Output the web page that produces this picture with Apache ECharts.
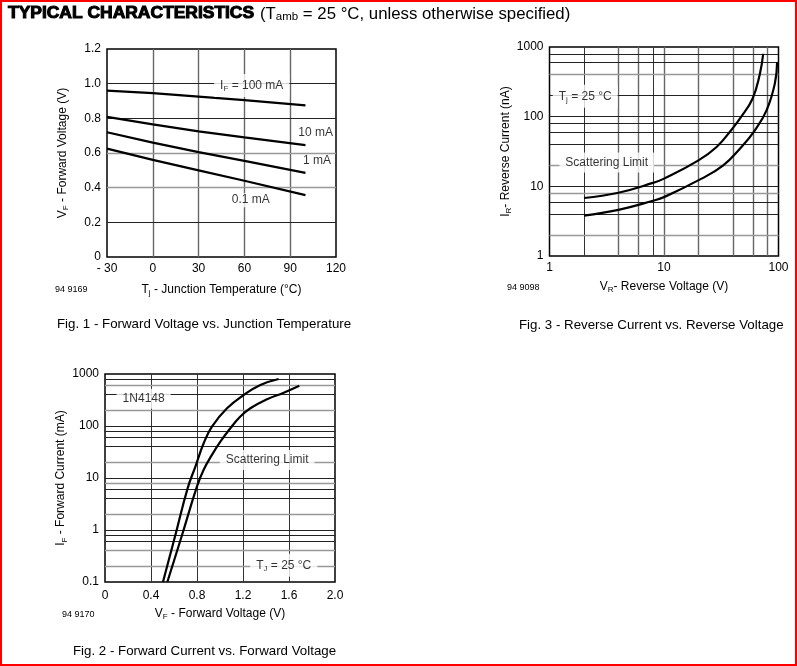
<!DOCTYPE html>
<html>
<head>
<meta charset="utf-8">
<script src="https://cdn.jsdelivr.net/npm/echarts@6/dist/echarts.min.js"></script>
<style>
html,body{margin:0;padding:0;background:#fff;}
#main{width:793px;height:662px;border:2px solid #f00;}
</style>
</head>
<body>
<div id="main"></div>
<script>
// Fig. 1 values
var fig1Temp=[-30,0,30,60,100];
var fig1If100=[0.96,0.945,0.925,0.905,0.875];
var fig1If10=[0.808,0.765,0.725,0.69,0.645];
var fig1If1=[0.72,0.66,0.605,0.555,0.485];
var fig1If01=[0.625,0.56,0.5,0.44,0.357];
var fig1XTicks=['- 30','0','30','60','90','120'];
var fig1YTicks=['0','0.2','0.4','0.6','0.8','1.0','1.2'];
var fig1VLines=[0,30,60,90];
var fig1DarkH=[0.2,0.8,1.0];
var fig1GreyH=[0.4,0.6];

// Fig. 3 values
var fig3UpperV=[2,4,8,10,20,28.8,38.9,46,59.3,68.8,73.5];
var fig3UpperI=[6.8,8.1,11.2,12.9,23.6,36.7,65,93.6,181,414,800];
var fig3LowerV=[2,4,8,10,21.3,32.9,46,62.2,78.6,92.9,97.3];
var fig3LowerI=[3.8,4.6,6.2,7,12.9,20,34.7,63.7,123,298,609];
var fig3XTicks=['1','10','100'];
var fig3YTicks=['1','10','100','1000'];
var fig3VDark=[2,8];
var fig3VGrey=[4,6,10,20,40,60,80];
var fig3HDark=[4,6,10,40,60,80,100,200,600,800];
var fig3HGrey=[2,8,20,400];

// Fig. 2 values
var fig2UpperV=[0.504,0.612,0.719,0.786,0.858,0.93,1.061,1.206,1.351,1.51];
var fig2UpperI=[0.1,0.8,6.4,16.6,46.6,97.5,219,395,615,802];
var fig2LowerV=[0.542,0.67,0.8,0.858,0.93,1.003,1.09,1.177,1.264,1.409,1.554,1.69];
var fig2LowerI=[0.1,0.8,6.9,14.4,27.9,50,90.6,152,219,326,438,597];
var fig2XTicks=['0','0.4','0.8','1.2','1.6','2.0'];
var fig2YTicks=['0.1','1','10','100','1000'];
var fig2VLines=[0.4,0.8,1.2,1.6];
var fig2HDark=[0.6,0.8,1,4,6,10,40,60,80,100,400,800];
var fig2HGrey=[0.2,0.4,2,8,20,200,600];

var FONT='"Liberation Sans", Arial, sans-serif';
var INK='#000';
var richStyle={
  t:{fontFamily:FONT,fontSize:12,color:INK},
  s:{fontFamily:FONT,fontSize:8,color:INK,padding:[7,0,0,0]}
};

function zip(xs,ys){
  var out=[];
  for(var i=0;i<xs.length;i++){
    out.push([xs[i],ys[i]]);
  }
  return out;
}

function curve(idx,data,smooth){
  return {
    type:'line',xAxisIndex:idx,yAxisIndex:idx,data:data,
    symbol:'none',smooth:smooth,z:4,silent:true,
    lineStyle:{color:'#000',width:2.2}
  };
}

// grid lines, drawn as markLines since the log axes need 2/4/6/8 lines
function gridLines(idx,darkV,greyV,darkH,greyH){
  var lines=[];
  function add(list,key,color,width){
    for(var i=0;i<list.length;i++){
      var item={lineStyle:{color:color,width:width,type:'solid'}};
      item[key]=list[i];
      lines.push(item);
    }
  }
  add(greyV,'xAxis','#666',1.4);
  add(darkV,'xAxis','#333',1);
  add(greyH,'yAxis','#999',1.4);
  add(darkH,'yAxis','#222',1);
  return {
    type:'line',xAxisIndex:idx,yAxisIndex:idx,data:[],z:1,silent:true,
    markLine:{z:1,silent:true,symbol:'none',label:{show:false},animation:false,data:lines}
  };
}

// text placed in data coordinates, white box hides the grid behind it
function notes(idx,items){
  var data=[];
  for(var i=0;i<items.length;i++){
    var label={formatter:items[i][2]};
    if(items[i][3])label.padding=items[i][3];
    data.push({value:[items[i][0],items[i][1]],label:label});
  }
  return {
    type:'scatter',xAxisIndex:idx,yAxisIndex:idx,data:data,symbolSize:1,z:6,silent:true,
    itemStyle:{color:'transparent'},
    label:{show:true,position:'inside',backgroundColor:'#fff',padding:[4,6],rich:richStyle}
  };
}

function tickFormatter(list){
  return function(value,index){
    return list[index];
  };
}

function xAxis(gridIndex,type,min,max,interval,ticks,name,gap,margin){
  var a={
    gridIndex:gridIndex,type:type,min:min,max:max,
    name:name,nameLocation:'middle',nameGap:gap,nameTextStyle:{rich:richStyle},
    axisLine:{show:false},axisTick:{show:false},splitLine:{show:false},minorSplitLine:{show:false},
    axisLabel:{margin:margin,color:INK,fontFamily:FONT,fontSize:12,formatter:tickFormatter(ticks),hideOverlap:false,showMinLabel:true,showMaxLabel:true}
  };
  if(interval)a.interval=interval;
  return a;
}

function yAxis(gridIndex,type,min,max,interval,ticks,name,gap){
  var a=xAxis(gridIndex,type,min,max,interval,ticks,name,gap,6);
  a.nameRotate=90;
  return a;
}

var labelGraphic=[
  {type:'text',x:6,y:4,scaleX:1.09,style:{
    text:'TYPICAL CHARACTERISTICS',fontFamily:FONT,fontSize:16,fontWeight:'bold',fill:'#000',stroke:'#000',lineWidth:1
  }},
  {type:'text',x:258,y:3,style:{
    text:'{n|(T}{u|amb}{n| = 25 °C, unless otherwise specified)}',
    rich:{
      n:{fontFamily:FONT,fontSize:16.8,fill:'#000'},
      u:{fontFamily:FONT,fontSize:11.5,fill:'#000',padding:[6,0,0,0]}
    }
  }}
];
function plainText(x,y,text,size){
  labelGraphic.push({type:'text',left:x,top:y,style:{text:text,fontFamily:FONT,fontSize:size,fill:INK}});
}
plainText(53,283,'94 9169',9);
plainText(505,281,'94 9098',9);
plainText(60,608,'94 9170',9);
plainText(55,316,'Fig. 1 - Forward Voltage vs. Junction Temperature',13.3);
plainText(517,317,'Fig. 3 - Reverse Current vs. Reverse Voltage',13.3);
plainText(71,643,'Fig. 2 - Forward Current vs. Forward Voltage',13.3);

var option={
  animation:false,
  backgroundColor:'#fff',
  graphic:labelGraphic,
  grid:[
    {left:105,top:47,width:229,height:208,show:true,borderColor:'#000',borderWidth:1.5,backgroundColor:'transparent'},
    {left:547.5,top:45,width:229,height:209,show:true,borderColor:'#000',borderWidth:1.5,backgroundColor:'transparent'},
    {left:103,top:372,width:230,height:208,show:true,borderColor:'#000',borderWidth:1.5,backgroundColor:'transparent'}
  ],
  xAxis:[
    xAxis(0,'value',-30,120,30,fig1XTicks,'{t|T}{s|j}{t| - Junction Temperature (°C)}',25,6),
    xAxis(1,'log',1,100,null,fig3XTicks,'{t|V}{s|R}{t|- Reverse Voltage (V)}',23,6),
    xAxis(2,'value',0,2,0.4,fig2XTicks,'{t|V}{s|F}{t| - Forward Voltage (V)}',24,8)
  ],
  yAxis:[
    yAxis(0,'value',0,1.2,0.2,fig1YTicks,'{t|V}{s|F}{t| - Forward Voltage (V)}',37),
    yAxis(1,'log',1,1000,null,fig3YTicks,'{t|I}{s|R}{t|- Reverse Current (nA)}',36),
    yAxis(2,'log',0.1,1000,null,fig2YTicks,'{t|I}{s|F}{t| - Forward Current (mA)}',36)
  ],
  series:[
    gridLines(0,[],fig1VLines,fig1DarkH,fig1GreyH),
    gridLines(1,fig3VDark,fig3VGrey,fig3HDark,fig3HGrey),
    gridLines(2,fig2VLines,[],fig2HDark,fig2HGrey),
    curve(0,zip(fig1Temp,fig1If100),false),
    curve(0,zip(fig1Temp,fig1If10),false),
    curve(0,zip(fig1Temp,fig1If1),false),
    curve(0,zip(fig1Temp,fig1If01),false),
    curve(1,zip(fig3UpperV,fig3UpperI),0.45),
    curve(1,zip(fig3LowerV,fig3LowerI),0.45),
    curve(2,zip(fig2UpperV,fig2UpperI),0.45),
    curve(2,zip(fig2LowerV,fig2LowerI),0.45),
    notes(0,[
      [64.8,0.99,'{t|I}{s|F}{t| = 100 mA}'],
      [106.7,0.72,'{t|10 mA}',[0,0]],
      [107.6,0.553,'{t|1 mA}',[0,0]],
      [64.2,0.328,'{t|0.1 mA}',[1,4]]
    ]),
    notes(1,[
      [2.05,196,'{t|T}{s|j}{t| = 25 °C}'],
      [3.16,22,'{t|Scattering Limit}']
    ]),
    notes(2,[
      [0.336,336,'{t|1N4148}'],
      [1.41,22.3,'{t|Scattering Limit}'],
      [1.554,0.209,'{t|T}{s|J}{t| = 25 °C}']
    ])
  ]
};

var myChart=echarts.init(document.getElementById('main'));
myChart.setOption(option);
</script>
</body>
</html>
